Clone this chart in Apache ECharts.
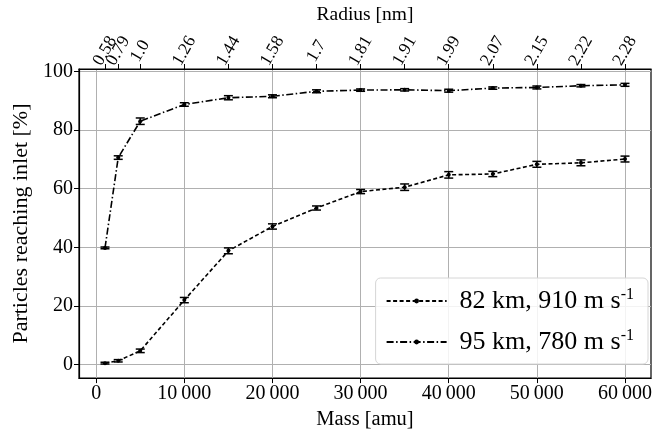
<!DOCTYPE html>
<html>
<head>
<meta charset="utf-8">
<script src="https://cdn.jsdelivr.net/npm/echarts@6/dist/echarts.min.js"></script>
<style>
  html, body { margin: 0; padding: 0; background: #fff; }
  #chart { width: 662px; height: 435px; }
</style>
</head>
<body>
<div id="chart"></div>
<script>
// Particle mass [amu] for each simulated case
const masses = [1000, 2500, 5000, 10000, 15000, 20000, 25000, 30000, 35000, 40000, 45000, 50000, 55000, 60000];
// Equivalent radius [nm] for each mass (top axis labels)
const radii = ['0.58', '0.79', '1.0', '1.26', '1.44', '1.58', '1.7', '1.81', '1.91', '1.99', '2.07', '2.15', '2.22', '2.28'];

// 82 km, 910 m/s : percentage reaching inlet and its uncertainty
const pct82 = [0.5, 1.3, 4.7, 22.0, 38.8, 47.1, 53.4, 59.0, 60.5, 64.7, 65.0, 68.3, 68.8, 70.1];
const err82 = [0.3, 0.4, 0.6, 0.9, 1.0, 0.9, 0.7, 0.7, 1.1, 1.1, 0.9, 1.0, 1.0, 1.0];

// 95 km, 780 m/s
const pct95 = [39.8, 70.6, 83.0, 88.7, 91.0, 91.5, 93.2, 93.6, 93.7, 93.4, 94.3, 94.5, 95.1, 95.4];
const err95 = [0.3, 0.6, 1.1, 0.6, 0.7, 0.5, 0.5, 0.4, 0.4, 0.5, 0.4, 0.5, 0.4, 0.5];

const massTicks = [0, 10000, 20000, 30000, 40000, 50000, 60000];
const pctTicks = [0, 20, 40, 60, 80, 100];

const seriesNames = ['82 km, 910 m s', '95 km, 780 m s'];

const FONT = 'Liberation Serif';
const X_MIN = -1950;
const X_MAX = 62950;

function toPairs(vals) {
  return masses.map((m, i) => [m, vals[i]]);
}
function toErr(vals, errs) {
  return masses.map((m, i) => [m, vals[i] - errs[i], vals[i] + errs[i]]);
}

function errorBar(params, api) {
  const x = api.value(0);
  const lo = api.coord([x, api.value(1)]);
  const hi = api.coord([x, api.value(2)]);
  const w = 4.5;
  const st = { stroke: '#000', lineWidth: 1.5 };
  return {
    type: 'group',
    children: [
      { type: 'line', shape: { x1: lo[0], y1: lo[1], x2: hi[0], y2: hi[1] }, style: st },
      { type: 'line', shape: { x1: lo[0] - w, y1: lo[1], x2: lo[0] + w, y2: lo[1] }, style: st },
      { type: 'line', shape: { x1: hi[0] - w, y1: hi[1], x2: hi[0] + w, y2: hi[1] }, style: st }
    ]
  };
}

const chart = echarts.init(document.getElementById('chart'), null, { renderer: 'canvas' });

const gridLine = { show: true, lineStyle: { color: '#b0b0b0', width: 1 } };

// blank end labels keep the real radius labels away from the axis ends
const radiusLabelValues = [X_MIN].concat(masses, [X_MAX]);

chart.setOption({
  animation: false,
  backgroundColor: '#fff',
  textStyle: { fontFamily: FONT, color: '#000' },
  grid: { left: 79, right: 11, top: 67, bottom: 54, show: true, borderColor: '#000', borderWidth: 1.2, backgroundColor: 'transparent' },
  legend: {
    right: 14,
    top: 278,
    orient: 'vertical',
    padding: [9, 14, 9, 10],
    itemGap: 14,
    itemWidth: 60,
    itemHeight: 6,
    backgroundColor: 'rgba(255,255,255,0.85)',
    borderColor: '#d6d6d6',
    borderWidth: 1,
    borderRadius: 5,
    data: seriesNames,
    formatter: name => '{t|' + name + '}{s|-1}',
    textStyle: {
      rich: {
        t: { fontFamily: FONT, fontSize: 26, color: '#000', padding: [0, 0, 0, 8] },
        s: { fontFamily: FONT, fontSize: 16, color: '#000', verticalAlign: 'top', padding: [0, 0, 12, 0] }
      }
    }
  },
  xAxis: [
    {
      type: 'value',
      position: 'bottom',
      min: X_MIN,
      max: X_MAX,
      name: 'Mass [amu]',
      nameLocation: 'middle',
      nameGap: 30,
      nameTextStyle: { fontFamily: FONT, fontSize: 20.5, color: '#000' },
      axisLine: { show: true, onZero: false, lineStyle: { color: '#000', width: 1.2 } },
      axisTick: { show: true, customValues: massTicks, length: 5, lineStyle: { color: '#000' } },
      axisLabel: {
        customValues: massTicks,
        fontFamily: FONT, fontSize: 20, color: '#000', margin: 6,
        formatter: v => v === 0 ? '0' : String(v / 1000) + '\u2009000'
      },
      splitLine: gridLine
    },
    {
      type: 'value',
      position: 'top',
      min: X_MIN,
      max: X_MAX,
      name: 'Radius [nm]',
      nameLocation: 'middle',
      nameGap: 44,
      nameTextStyle: { fontFamily: FONT, fontSize: 19.5, color: '#000' },
      axisLine: { show: true, onZero: false, lineStyle: { color: '#000', width: 1.2 } },
      axisTick: { show: true, customValues: masses, length: 5, lineStyle: { color: '#000' } },
      axisLabel: {
        customValues: radiusLabelValues,
        rotate: -60,
        align: 'center',
        verticalAlign: 'middle',
        margin: 18,
        showMinLabel: true,
        showMaxLabel: true,
        hideOverlap: false,
        fontFamily: FONT, fontSize: 17.5, color: '#000',
        formatter: v => {
          const i = masses.indexOf(v);
          return i < 0 ? '' : radii[i];
        }
      },
      splitLine: { show: false }
    }
  ],
  yAxis: {
    type: 'value',
    min: -4.6,
    max: 100.8,
    name: 'Particles reaching inlet [%]',
    nameLocation: 'middle',
    nameGap: 47,
    nameTextStyle: { fontFamily: FONT, fontSize: 22, color: '#000' },
    axisLine: { show: true, onZero: false, lineStyle: { color: '#000', width: 1.2 } },
    axisTick: { show: true, customValues: pctTicks, length: 5, lineStyle: { color: '#000' } },
    axisLabel: { customValues: pctTicks, fontFamily: FONT, fontSize: 20, color: '#000', margin: 6 },
    splitLine: gridLine
  },
  series: [
    {
      name: seriesNames[0],
      type: 'line',
      data: toPairs(pct82),
      symbol: 'circle',
      symbolSize: 4,
      itemStyle: { color: '#000' },
      lineStyle: { color: '#000', width: 1.6, type: [4, 2.5] },
      z: 3
    },
    {
      name: seriesNames[1],
      type: 'line',
      data: toPairs(pct95),
      symbol: 'circle',
      symbolSize: 4,
      itemStyle: { color: '#000' },
      lineStyle: { color: '#000', width: 1.6, type: [7, 2.5, 1.5, 2.5] },
      z: 3
    },
    {
      type: 'custom',
      renderItem: errorBar,
      data: toErr(pct82, err82),
      z: 4,
      silent: true
    },
    {
      type: 'custom',
      renderItem: errorBar,
      data: toErr(pct95, err95),
      z: 4,
      silent: true
    }
  ]
});
</script>
</body>
</html>
